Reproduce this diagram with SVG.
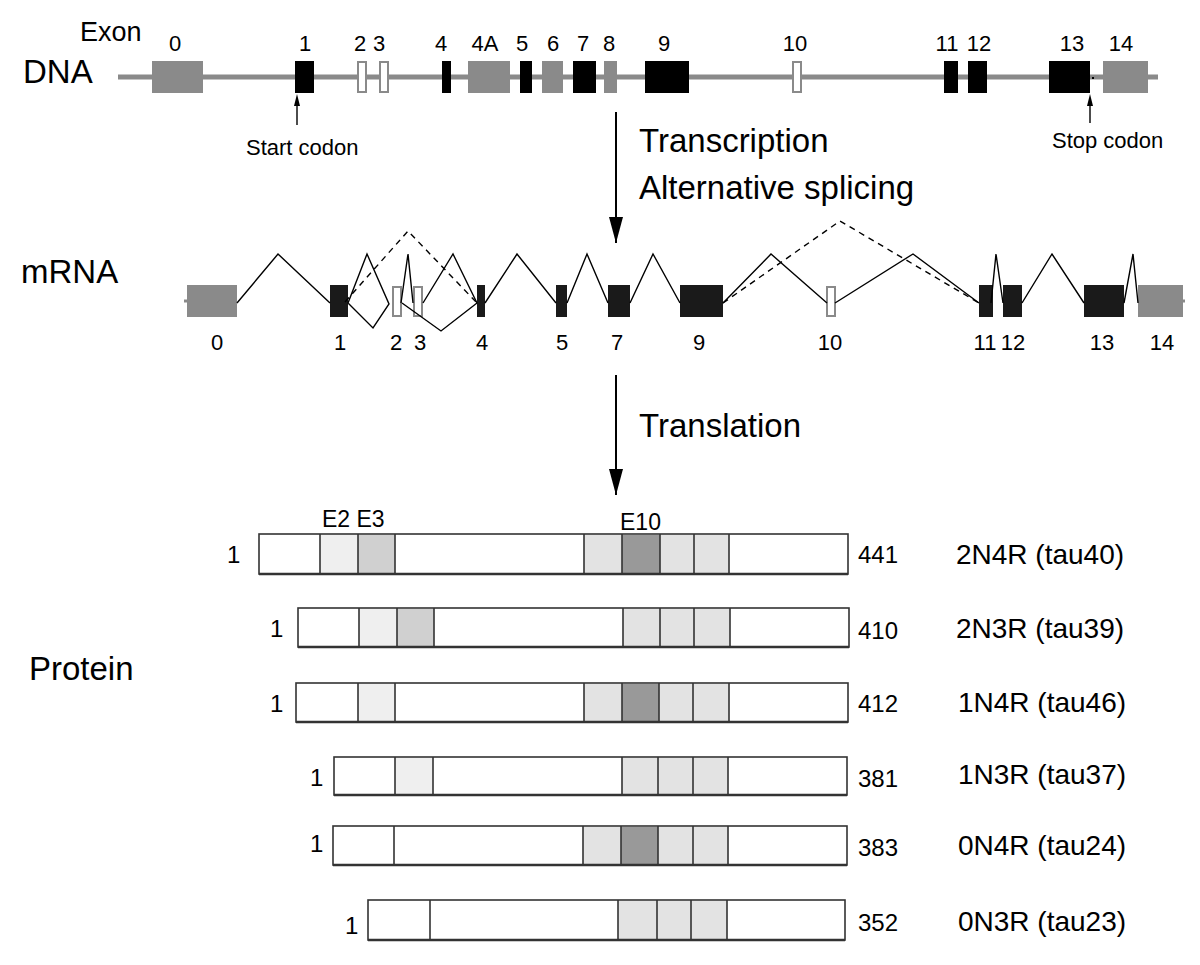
<svg xmlns="http://www.w3.org/2000/svg" width="1200" height="965" viewBox="0 0 1200 965">
<style>
text{font-family:"Liberation Sans",Arial,sans-serif;fill:#000}
.big{font-size:33px}
.num{font-size:22px;text-anchor:middle}
.lab{font-size:24px}
.iso{font-size:28px}
.ex-b{fill:#000}
.ex-g{fill:#8a8a8a}
.ex-o{fill:#fff;stroke:#8a8a8a;stroke-width:2}
.mx-b{fill:#1a1a1a}
.spl{fill:none;stroke:#000;stroke-width:1.4}
.dash{fill:none;stroke:#000;stroke-width:1.4;stroke-dasharray:6 5}
.bar{fill:#fff;stroke:#333;stroke-width:1.6}
.div{stroke:#333;stroke-width:1.6}
.c1{fill:#efefef}.c2{fill:#d0d0d0}.c3{fill:#e3e3e3}.c4{fill:#999}
</style>
<defs>
<marker id="bigArrow" markerWidth="26" markerHeight="14" refX="26" refY="7" orient="auto" markerUnits="userSpaceOnUse" viewBox="0 0 26 14">
<path d="M0,0 L26,7 L0,14 Z" fill="#000"/>
</marker>
</defs>

<g id="labels">
<text x="80" y="41" style="font-size:27px">Exon</text>
<text x="23" y="83" class="big">DNA</text>
<text x="21" y="283" class="big">mRNA</text>
<text x="29" y="680" class="big">Protein</text>
<text x="639" y="152" class="big">Transcription</text>
<text x="639" y="199" class="big">Alternative splicing</text>
<text x="639" y="437" class="big">Translation</text>
<text x="246" y="155" style="font-size:22px">Start codon</text>
<text x="1052" y="148" style="font-size:22px">Stop codon</text>
</g>

<g id="dna">
<line x1="118" y1="77" x2="1158" y2="77" stroke="#8a8a8a" stroke-width="5"/>
<g id="dna-exon-0"><rect class="ex-g" x="152" y="61" width="51" height="32"/><text class="num" x="175" y="51">0</text></g>
<g id="dna-exon-1"><rect class="ex-b" x="295" y="61" width="19" height="32"/><text class="num" x="305" y="51">1</text></g>
<g id="dna-exon-2"><rect class="ex-o" x="358" y="62" width="8" height="30"/><text class="num" x="360" y="51">2</text></g>
<g id="dna-exon-3"><rect class="ex-o" x="380" y="62" width="8" height="30"/><text class="num" x="379" y="51">3</text></g>
<g id="dna-exon-4"><rect class="ex-b" x="442" y="61" width="9" height="32"/><text class="num" x="441" y="51">4</text></g>
<g id="dna-exon-4A"><rect class="ex-g" x="468" y="61" width="42" height="32"/><text class="num" x="485" y="51">4A</text></g>
<g id="dna-exon-5"><rect class="ex-b" x="520" y="61" width="12" height="32"/><text class="num" x="522" y="51">5</text></g>
<g id="dna-exon-6"><rect class="ex-g" x="542" y="61" width="21" height="32"/><text class="num" x="553" y="51">6</text></g>
<g id="dna-exon-7"><rect class="ex-b" x="573" y="61" width="23" height="32"/><text class="num" x="583" y="51">7</text></g>
<g id="dna-exon-8"><rect class="ex-g" x="604" y="61" width="13" height="32"/><text class="num" x="609" y="51">8</text></g>
<g id="dna-exon-9"><rect class="ex-b" x="645" y="61" width="44" height="32"/><text class="num" x="664" y="51">9</text></g>
<g id="dna-exon-10"><rect class="ex-o" x="793" y="62" width="8" height="30"/><text class="num" x="795" y="51">10</text></g>
<g id="dna-exon-11"><rect class="ex-b" x="944" y="61" width="14" height="32"/><text class="num" x="947" y="51">11</text></g>
<g id="dna-exon-12"><rect class="ex-b" x="968" y="61" width="19" height="32"/><text class="num" x="979" y="51">12</text></g>
<g id="dna-exon-13"><rect class="ex-b" x="1049" y="61" width="41" height="32"/><text class="num" x="1072" y="51">13</text></g>
<g id="dna-exon-14"><rect class="ex-g" x="1103" y="61" width="45" height="32"/><text class="num" x="1121" y="51">14</text></g>
<rect x="1092" y="77" width="2" height="2" fill="#000"/>
</g>

<g id="mrna">
<line x1="184" y1="301" x2="188" y2="301" stroke="#8a8a8a" stroke-width="3"/>
<line x1="1182" y1="301" x2="1185" y2="301" stroke="#8a8a8a" stroke-width="3"/>
<g id="mrna-exon-0"><rect class="ex-g" x="187" y="285" width="50" height="32"/><text class="num" x="217" y="350">0</text></g>
<g id="mrna-exon-1"><rect class="mx-b" x="330" y="285" width="18" height="32"/><text class="num" x="340" y="350">1</text></g>
<g id="mrna-exon-2"><rect class="ex-o" x="393" y="287" width="8" height="29"/><text class="num" x="396" y="350">2</text></g>
<g id="mrna-exon-3"><rect class="ex-o" x="414" y="287" width="8" height="29"/><text class="num" x="420" y="350">3</text></g>
<g id="mrna-exon-4"><rect class="mx-b" x="477" y="285" width="8" height="32"/><text class="num" x="482" y="350">4</text></g>
<g id="mrna-exon-5"><rect class="mx-b" x="556" y="285" width="11" height="32"/><text class="num" x="562" y="350">5</text></g>
<g id="mrna-exon-7"><rect class="mx-b" x="608" y="285" width="22" height="32"/><text class="num" x="617" y="350">7</text></g>
<g id="mrna-exon-9"><rect class="mx-b" x="680" y="285" width="43" height="32"/><text class="num" x="699" y="350">9</text></g>
<g id="mrna-exon-10"><rect class="ex-o" x="827" y="287" width="8" height="29"/><text class="num" x="830" y="350">10</text></g>
<g id="mrna-exon-11"><rect class="mx-b" x="979" y="285" width="14" height="32"/><text class="num" x="985" y="350">11</text></g>
<g id="mrna-exon-12"><rect class="mx-b" x="1003" y="285" width="19" height="32"/><text class="num" x="1013" y="350">12</text></g>
<g id="mrna-exon-13"><rect class="mx-b" x="1084" y="285" width="40" height="32"/><text class="num" x="1102" y="350">13</text></g>
<g id="mrna-exon-14"><rect class="ex-g" x="1138" y="285" width="45" height="32"/><text class="num" x="1162" y="350">14</text></g>
</g>

<g id="connectors">
<line x1="616" y1="112" x2="616" y2="243" stroke="#000" stroke-width="2" marker-end="url(#bigArrow)"/>
<line x1="616" y1="375" x2="616" y2="495" stroke="#000" stroke-width="2" marker-end="url(#bigArrow)"/>
<line x1="297" y1="125" x2="297" y2="100" stroke="#000" stroke-width="1.4"/>
<path d="M294,106 L297,94 L300,106 Z" fill="#000"/>
<line x1="1090" y1="123" x2="1090" y2="100" stroke="#000" stroke-width="1.4"/>
<path d="M1087,106 L1090,94 L1093,106 Z" fill="#000"/>
<polyline class="spl" points="237,303 278,254 330,303"/>
<polyline class="spl" points="348,303 367,254 389,304 373,328 348,303"/>
<polyline class="spl" points="401,303 408,254 413,303"/>
<polyline class="spl" points="402,303 441,331 477,303"/>
<polyline class="spl" points="423,303 453,254 477,303"/>
<polyline class="dash" points="345,302 408,231 477,303"/>
<polyline class="spl" points="485,303 517,254 556,303"/>
<polyline class="spl" points="567,303 587,254 608,303"/>
<polyline class="spl" points="630,303 653,254 680,303"/>
<polyline class="spl" points="723,303 771,254 827,303"/>
<polyline class="dash" points="723,303 840,221 979,303"/>
<polyline class="spl" points="835,303 913,254 979,303"/>
<polyline class="spl" points="991,303 996,254 1003,303"/>
<polyline class="spl" points="1022,303 1052,254 1084,303"/>
<polyline class="spl" points="1124,303 1133,254 1138,303"/>
</g>

<g id="protein-labels">
<text x="322" y="527" style="font-size:23px">E2 E3</text>
<text x="620" y="530" style="font-size:23px">E10</text>
</g>

<g id="iso-2N4R">
<rect class="bar" x="259" y="534" width="589" height="40"/>
<rect class="c1" x="320" y="535" width="38" height="38"/><rect class="c2" x="358" y="535" width="37" height="38"/>
<rect class="c3" x="584" y="535" width="38" height="38"/><rect class="c4" x="622" y="535" width="38" height="38"/><rect class="c3" x="660" y="535" width="34" height="38"/><rect class="c3" x="694" y="535" width="35" height="38"/>
<path class="div" d="M320,534V574M358,534V574M395,534V574M584,534V574M622,534V574M660,534V574M694,534V574M729,534V574"/>
<line x1="259" y1="574" x2="848" y2="574" stroke="#333" stroke-width="2.5"/>
<text class="lab" x="227" y="563">1</text><text class="lab" x="858" y="563">441</text><text class="iso" x="956" y="564">2N4R (tau40)</text>
</g>

<g id="iso-2N3R">
<rect class="bar" x="298" y="608" width="551" height="39"/>
<rect class="c1" x="359" y="609" width="38" height="37"/><rect class="c2" x="397" y="609" width="37" height="37"/>
<rect class="c3" x="623" y="609" width="37" height="37"/><rect class="c3" x="660" y="609" width="34" height="37"/><rect class="c3" x="694" y="609" width="36" height="37"/>
<path class="div" d="M359,608V647M397,608V647M434,608V647M623,608V647M660,608V647M694,608V647M730,608V647"/>
<line x1="298" y1="647" x2="849" y2="647" stroke="#333" stroke-width="2.5"/>
<text class="lab" x="270" y="637">1</text><text class="lab" x="858" y="639">410</text><text class="iso" x="956" y="638">2N3R (tau39)</text>
</g>

<g id="iso-1N4R">
<rect class="bar" x="296" y="683" width="552" height="39"/>
<rect class="c1" x="358" y="684" width="37" height="37"/>
<rect class="c3" x="584" y="684" width="38" height="37"/><rect class="c4" x="622" y="684" width="37" height="37"/><rect class="c3" x="659" y="684" width="34" height="37"/><rect class="c3" x="693" y="684" width="36" height="37"/>
<path class="div" d="M358,683V722M395,683V722M584,683V722M622,683V722M659,683V722M693,683V722M729,683V722"/>
<line x1="296" y1="722" x2="848" y2="722" stroke="#333" stroke-width="2.5"/>
<text class="lab" x="270" y="712">1</text><text class="lab" x="858" y="712">412</text><text class="iso" x="958" y="712">1N4R (tau46)</text>
</g>

<g id="iso-1N3R">
<rect class="bar" x="334" y="757" width="513" height="38"/>
<rect class="c1" x="395" y="758" width="38" height="36"/>
<rect class="c3" x="622" y="758" width="36" height="36"/><rect class="c3" x="658" y="758" width="35" height="36"/><rect class="c3" x="693" y="758" width="35" height="36"/>
<path class="div" d="M395,757V795M433,757V795M622,757V795M658,757V795M693,757V795M728,757V795"/>
<line x1="334" y1="795" x2="847" y2="795" stroke="#333" stroke-width="2.5"/>
<text class="lab" x="310" y="786">1</text><text class="lab" x="858" y="787">381</text><text class="iso" x="958" y="784">1N3R (tau37)</text>
</g>

<g id="iso-0N4R">
<rect class="bar" x="333" y="826" width="514" height="39"/>
<rect class="c3" x="583" y="827" width="38" height="37"/><rect class="c4" x="621" y="827" width="37" height="37"/><rect class="c3" x="658" y="827" width="35" height="37"/><rect class="c3" x="693" y="827" width="35" height="37"/>
<path class="div" d="M394,826V865M583,826V865M621,826V865M658,826V865M693,826V865M728,826V865"/>
<line x1="333" y1="865" x2="847" y2="865" stroke="#333" stroke-width="2.5"/>
<text class="lab" x="310" y="852">1</text><text class="lab" x="858" y="856">383</text><text class="iso" x="958" y="855">0N4R (tau24)</text>
</g>

<g id="iso-0N3R">
<rect class="bar" x="368" y="900" width="477" height="40"/>
<rect class="c3" x="618" y="901" width="39" height="38"/><rect class="c3" x="657" y="901" width="34" height="38"/><rect class="c3" x="691" y="901" width="36" height="38"/>
<path class="div" d="M430,900V940M618,900V940M657,900V940M691,900V940M727,900V940"/>
<line x1="368" y1="940" x2="845" y2="940" stroke="#333" stroke-width="2.5"/>
<text class="lab" x="345" y="934">1</text><text class="lab" x="858" y="931">352</text><text class="iso" x="958" y="931">0N3R (tau23)</text>
</g>
</svg>
